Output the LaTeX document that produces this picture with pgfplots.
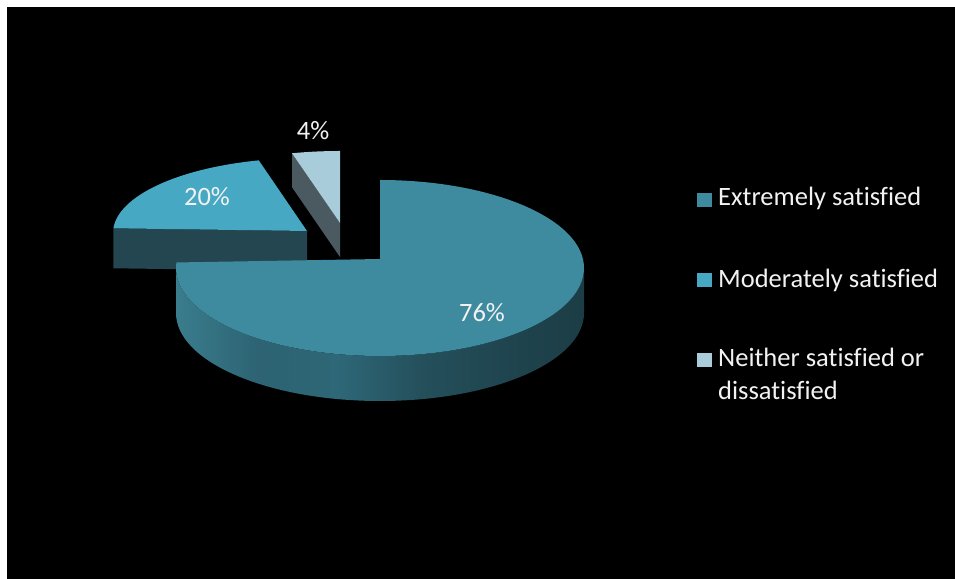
\documentclass[border=0pt]{standalone}
\usepackage{pgfplots}
\pgfplotsset{compat=1.18}
\usepackage{pgfplotstable}
\usepackage{fontspec}
\setmainfont{Carlito}[Ligatures=NoCommon]

\definecolor{cA}{HTML}{3E8A9E}
\definecolor{cB}{HTML}{47A8C3}
\definecolor{cC}{HTML}{A8CCDA}
\definecolor{sB}{HTML}{234650}
\definecolor{sC}{HTML}{4B5A61}
\definecolor{txt}{HTML}{F2F2F2}
\definecolor{sA1}{HTML}{3A7D8D}
\definecolor{sA2}{HTML}{2D6373}
\definecolor{sA3}{HTML}{2E6777}
\definecolor{sA4}{HTML}{24505B}
\definecolor{sA5}{HTML}{1F4550}
\definecolor{sA6}{HTML}{1C3D45}
\pgfdeclarehorizontalshading{mainside}{100bp}{color(0bp)=(sA1); color(25bp)=(sA1); color(35bp)=(sA2); color(45bp)=(sA3); color(55bp)=(sA4); color(65bp)=(sA5); color(75bp)=(sA6); color(100bp)=(sA6)}

\pgfplotstableread{
label value
Extremely 76
Moderately 20
Neither 4
}\piedata
\pgfplotstablegetelem{0}{value}\of\piedata\let\vA\pgfplotsretval
\pgfplotstablegetelem{1}{value}\of\piedata\let\vB\pgfplotsretval
\pgfplotstablegetelem{2}{value}\of\piedata\let\vC\pgfplotsretval
\pgfmathsetmacro\aA{90-3.6*\vA}
\pgfmathsetmacro\aB{\aA-3.6*\vB}
\pgfmathsetmacro\aC{\aB-3.6*\vC}
% geometry (1 axis unit = 1bp)
% main slice: ellipse centre (380,-268), radii 204 x 88, depth 45
\pgfmathsetmacro\MTx{380+204*cos(90)}
\pgfmathsetmacro\MTy{-268+88*sin(90)}
% 20% slice: ellipse centre (307,-233), radii 194 x 75, depth 40
\pgfmathsetmacro\Lbx{307+194*cos(\aA)}
\pgfmathsetmacro\Lby{-233+75*sin(\aA)}
\pgfmathsetmacro\Lbyd{\Lby-40}
% 4% slice: ellipse centre (340,-223), radii 193 x 72, depth 34
\pgfmathsetmacro\Lcx{340+193*cos(\aB)}
\pgfmathsetmacro\Lcy{-223+72*sin(\aB)}
\pgfmathsetmacro\Lcyd{\Lcy-34}
\newcommand\lbl{\fontsize{26.5bp}{31bp}\selectfont}

\begin{document}
\begin{tikzpicture}
\begin{axis}[width=955bp,height=579bp,scale only axis,
  xmin=0,xmax=955,ymin=-579,ymax=0,hide axis,clip=false]
% background
\fill[white] (axis cs:0,0) rectangle (axis cs:955,-579);
\fill[black] (axis cs:7,-7) rectangle (axis cs:955,-579);
% 20% slice
\fill[sB] (axis cs:\Lbx,\Lby) -- (axis cs:\Lbx,\Lbyd) -- (axis cs:307,-271) -- (axis cs:307,-231) -- cycle;
\fill[cB] (axis cs:\Lbx,\Lby) arc[start angle=\aA,end angle=\aB,x radius=194bp,y radius=75bp] -- (axis cs:307,-231) -- cycle;
% 4% slice
\fill[sC] (axis cs:\Lcx,\Lcy) -- (axis cs:340,-223) -- (axis cs:340,-257) -- (axis cs:\Lcx,\Lcyd) -- cycle;
\fill[cC] (axis cs:\Lcx,\Lcy) arc[start angle=\aB,end angle=\aC,x radius=193bp,y radius=72bp] -- (axis cs:340,-223) -- cycle;
% 76% slice
\shade[shading=mainside] (axis cs:176,-268) arc[start angle=180,end angle=360,x radius=204bp,y radius=88bp] -- (axis cs:584,-313) arc[start angle=360,end angle=180,x radius=204bp,y radius=88bp] -- cycle;
\fill[cA] (axis cs:\MTx,\MTy) arc[start angle=90,end angle=\aA,x radius=204bp,y radius=88bp] -- (axis cs:380,-259) -- cycle;
% labels
\node[txt,font=\lbl] at (axis cs:313,-131) {4\%};
\node[txt,font=\lbl] at (axis cs:207,-197) {20\%};
\node[txt,font=\lbl] at (axis cs:482,-313) {76\%};
% legend
\fill[cA] (axis cs:697,-193) rectangle (axis cs:712,-207);
\fill[cB] (axis cs:697,-273) rectangle (axis cs:712,-287);
\fill[cC] (axis cs:697,-353) rectangle (axis cs:712,-367);
\node[txt,anchor=base west,inner sep=0pt,font=\lbl] at (axis cs:718,-206) {Extremely satisfied};
\node[txt,anchor=base west,inner sep=0pt,font=\lbl] at (axis cs:718,-288) {Moderately satisfied};
\node[txt,anchor=base west,inner sep=0pt,font=\lbl] at (axis cs:718,-367) {Neither satisfied or};
\node[txt,anchor=base west,inner sep=0pt,font=\lbl] at (axis cs:718,-400) {dissatisfied};
\end{axis}
\end{tikzpicture}
\end{document}
